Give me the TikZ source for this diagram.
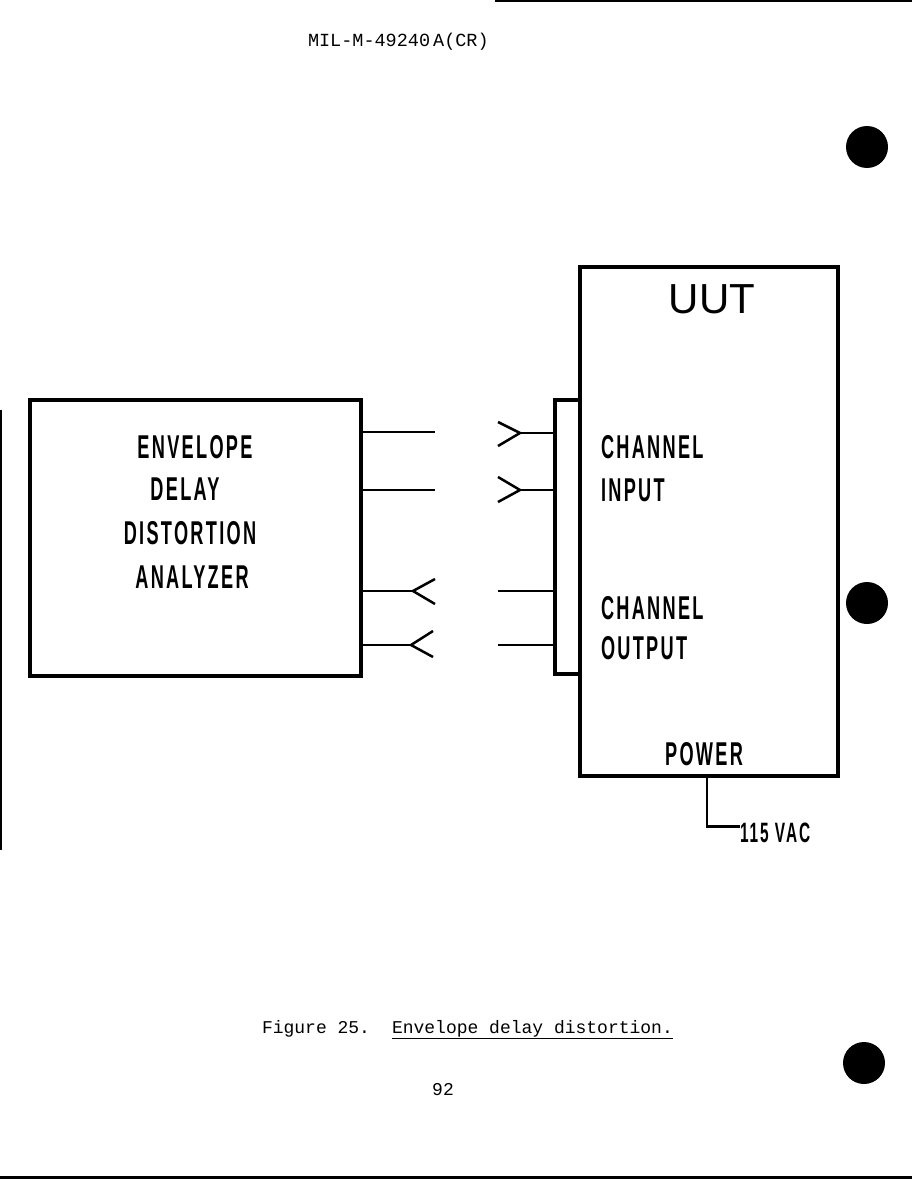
\documentclass[tikz,border=0pt]{standalone}
\usepackage{fontspec}
\setsansfont{Liberation Sans}
\newfontfamily\leroyfont[FakeStretch=0.55,LetterSpace=7]{Liberation Sans}
\newfontfamily\typefont{Liberation Mono}
\tikzset{
  unit/.style={draw,line width=4.5pt,inner sep=0pt},
  wire/.style={line width=2.5pt},
  jack/.style={line width=2.5pt,line join=miter},
  lettering/.style={inner sep=0pt,outer sep=0pt,anchor=base,font=\leroyfont\bfseries\fontsize{33}{38}\selectfont},
  typed/.style={inner sep=0pt,outer sep=0pt,anchor=base west,font=\typefont\fontsize{18}{21}\selectfont},
  hole/.style={fill=black}
}
\begin{document}
\begin{tikzpicture}[x=1pt,y=-1pt]
\path[use as bounding box] (0,0) rectangle (912,1180);
% scan edges and punch holes
\draw[line width=2pt] (495,1) -- (912,1);
\draw[line width=3pt] (0,1177) -- (912,1177);
\draw[line width=2pt] (1,410) -- (1,850);
\fill[hole] (867,147) circle (21);
\fill[hole] (867,603) circle (21);
\fill[hole] (864,1063) circle (21);
% header
\node[typed,font=\typefont\fontsize{18.5}{22}\selectfont] (docno) at (308,47) {MIL-M-49240\,A(CR)};
% analyzer
\node[unit,minimum width=331pt,minimum height=276pt] (analyzer) at (195.5,538) {};
\node[lettering] (envelope) at (195,458) {ENVELOPE};
\node[lettering] (delay) at (185,500) {DELAY};
\node[lettering] (distortion) at (190,544) {DISTORTION};
\node[lettering] (analyzerb) at (192,588) {ANALYZER};
% unit under test
\node[unit,minimum width=258pt,minimum height=509pt] (uut) at (709,521.5) {};
\node[unit,minimum width=25pt,minimum height=274pt] (panel) at (567.5,537) {};
\node[inner sep=0pt,anchor=base,font=\sffamily\fontsize{42}{48}\selectfont] (uutlabel) at (712,313) {UUT};
\node[lettering,anchor=base west] (chin) at (601,458) {CHANNEL};
\node[lettering,anchor=base west] (input) at (601,501) {INPUT};
\node[lettering,anchor=base west] (chout) at (601,619) {CHANNEL};
\node[lettering,anchor=base west] (output) at (601,659) {OUTPUT};
\node[lettering] (power) at (704,765) {POWER};
\node[lettering,anchor=base west,font=\leroyfont\bfseries\fontsize{28}{32}\selectfont] (ac) at (740,842) {115 VAC};
% plugs and jacks
\coordinate (plugA) at (435,432);
\coordinate (plugB) at (435,490);
\coordinate (jackC) at (413,591);
\coordinate (jackD) at (411,645);
\coordinate (jackA) at (520,433);
\coordinate (jackB) at (520,490);
\coordinate (plugC) at (498,591);
\coordinate (plugD) at (498,645);
\draw[wire] (plugA -| analyzer.east) -- (plugA);
\draw[wire] (plugB -| analyzer.east) -- (plugB);
\draw[wire] (jackC -| analyzer.east) -- (jackC);
\draw[wire] (jackD -| analyzer.east) -- (jackD);
\draw[jack] (jackC) ++(22,-12) -- (jackC) -- ++(22,13);
\draw[jack] (jackD) ++(22,-14) -- (jackD) -- ++(22,12);
\draw[wire] (jackA -| panel.west) -- (jackA);
\draw[wire] (jackB -| panel.west) -- (jackB);
\draw[jack] (jackA) ++(-22,-11) -- (jackA) -- ++(-22,13);
\draw[jack] (jackB) ++(-22,-13) -- (jackB) -- ++(-22,12);
\draw[wire] (plugC) -- (plugC -| panel.west);
\draw[wire] (plugD) -- (plugD -| panel.west);
% power lead
\draw[wire] ([xshift=-2pt]uut.south) |- ([yshift=6pt]ac.west);
% caption
\node[typed] (fignum) at (262,1033) {Figure 25.};
\node[typed] (figtitle) at (392,1033) {\underline{Envelope delay distortion.}};
\node[typed,anchor=base] (page) at (443,1095) {92};
\end{tikzpicture}
\end{document}
